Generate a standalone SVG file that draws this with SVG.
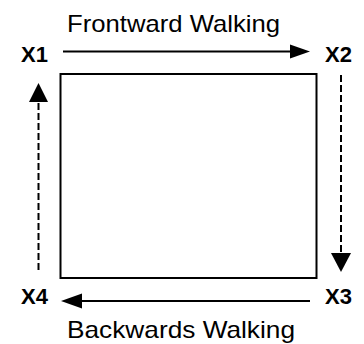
<svg xmlns="http://www.w3.org/2000/svg" width="364" height="344" viewBox="0 0 364 344">
<style>
.lbl{font-family:"Liberation Sans",Arial,sans-serif;font-size:24px;fill:#000}
.pt{font-family:"Liberation Sans",Arial,sans-serif;font-size:22px;font-weight:bold;fill:#000}
.solid{stroke:#000;stroke-width:2;fill:none}
.dash{stroke:#000;stroke-width:2;fill:none;stroke-dasharray:7,3}
.head{fill:#000;stroke:none}
</style>
<rect width="364" height="344" fill="#fff"/>
<g id="square">
<rect x="60.5" y="74" width="256" height="204" fill="none" stroke="#000" stroke-width="2"/>
</g>
<g id="connectors">
<line class="solid" x1="63" y1="51.5" x2="292" y2="51.5"/>
<polygon class="head" points="310,51.5 290,44.5 290,58.5"/>
<line class="dash" x1="341" y1="75" x2="341" y2="255"/>
<polygon class="head" points="341,272 331,253 351,253"/>
<line class="solid" x1="310" y1="301" x2="80" y2="301"/>
<polygon class="head" points="61,301 82,293.5 82,308.5"/>
<line class="dash" x1="38.5" y1="270" x2="38.5" y2="100"/>
<polygon class="head" points="38.5,83 29,102 48,102"/>
</g>
<g id="label-front"><text class="lbl" x="67" y="32" textLength="213" lengthAdjust="spacingAndGlyphs">Frontward Walking</text></g>
<g id="label-back"><text class="lbl" x="67" y="338" textLength="228" lengthAdjust="spacingAndGlyphs">Backwards Walking</text></g>
<g id="x1"><text class="pt" x="21" y="62">X1</text></g>
<g id="x2"><text class="pt" x="325" y="62">X2</text></g>
<g id="x3"><text class="pt" x="325" y="304">X3</text></g>
<g id="x4"><text class="pt" x="21" y="304">X4</text></g>
</svg>
